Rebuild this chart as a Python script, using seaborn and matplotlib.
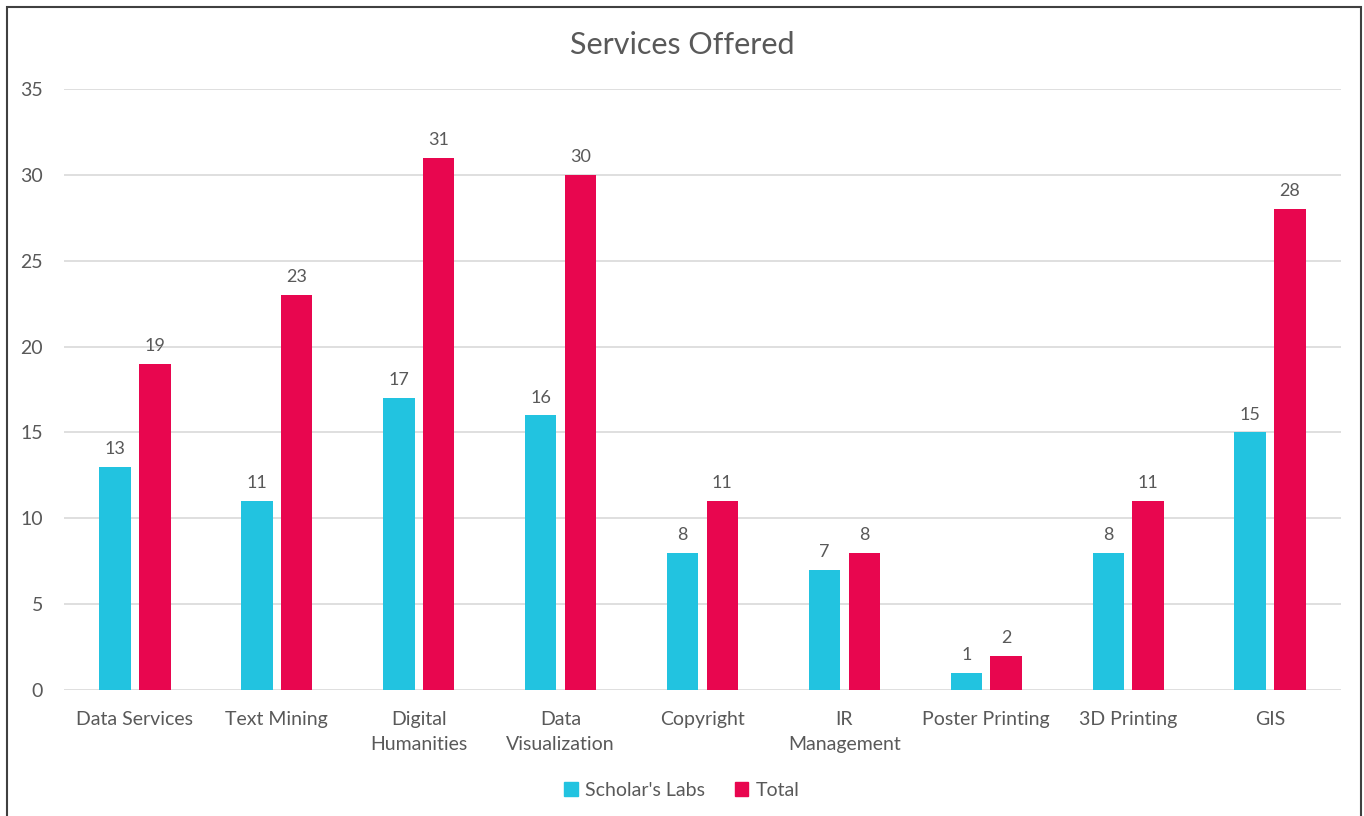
import matplotlib.pyplot as plt
import matplotlib.patches as mpatches
import numpy as np
import pandas as pd
import seaborn as sns

# chart values
services = ["Data Services", "Text Mining", "Digital\nHumanities", "Data\nVisualization",
            "Copyright", "IR\nManagement", "Poster Printing", "3D Printing", "GIS"]
scholars_labs = [13, 11, 17, 16, 8, 7, 1, 8, 15]
total = [19, 23, 31, 30, 11, 8, 2, 11, 28]
series_names = ["Scholar's Labs", "Total"]
colors = ["#22C3E0", "#E8064F"]
text_grey = "#595959"

df = pd.DataFrame({
    "service": services * 2,
    "count": scholars_labs + total,
    "series": [series_names[0]] * len(services) + [series_names[1]] * len(services),
})

sns.set_style("white")
plt.rcParams['font.family'] = ['Lato', 'DejaVu Sans']

fig = plt.figure(figsize=(13.64, 8.16), dpi=100)
ax = fig.add_axes([64 / 1364, 1 - 690 / 816, (1341 - 64) / 1364, (690 - 89) / 816])

sns.barplot(data=df, x="service", y="count", hue="series", palette=colors,
            width=0.56, gap=0.21, saturation=1, linewidth=0, ax=ax, legend=False)

for c in ax.containers:
    ax.bar_label(c, padding=7, fontsize=13, color=text_grey)

ax.set_ylim(0, 35)
ax.set_yticks(np.arange(0, 36, 5))
ax.set_xlim(-0.5, len(services) - 0.5)
ax.yaxis.grid(True, color="#D9D9D9", linewidth=1.2)
ax.set_axisbelow(True)
for s in ax.spines.values():
    s.set_visible(False)
ax.set_xlabel("")
ax.set_ylabel("")
ax.tick_params(axis="x", length=0, pad=15, labelsize=14, labelcolor=text_grey)
ax.tick_params(axis="y", length=0, pad=15, labelsize=14, labelcolor=text_grey)
for lbl in ax.get_xticklabels():
    lbl.set_linespacing(1.55)

fig.text(0.5, 1 - 45 / 816, "Services Offered", ha="center", va="center",
         fontsize=22, color=text_grey)

handles = [mpatches.Patch(color=col, label=name) for col, name in zip(colors, series_names)]
fig.legend(handles=handles, loc="center", bbox_to_anchor=(0.5, 1 - 790 / 816), ncol=2,
           frameon=False, fontsize=14, labelcolor=text_grey, handlelength=0.7,
           handleheight=0.7, handletextpad=0.4, columnspacing=1.5)

# outer border
fig.patches.append(mpatches.Rectangle((7 / 1364, -0.05), (1361 - 7) / 1364, 1.05 - 7 / 816,
                                      transform=fig.transFigure, fill=False,
                                      edgecolor="#404040", linewidth=1.5))

fig.savefig("out.png", dpi=100)
